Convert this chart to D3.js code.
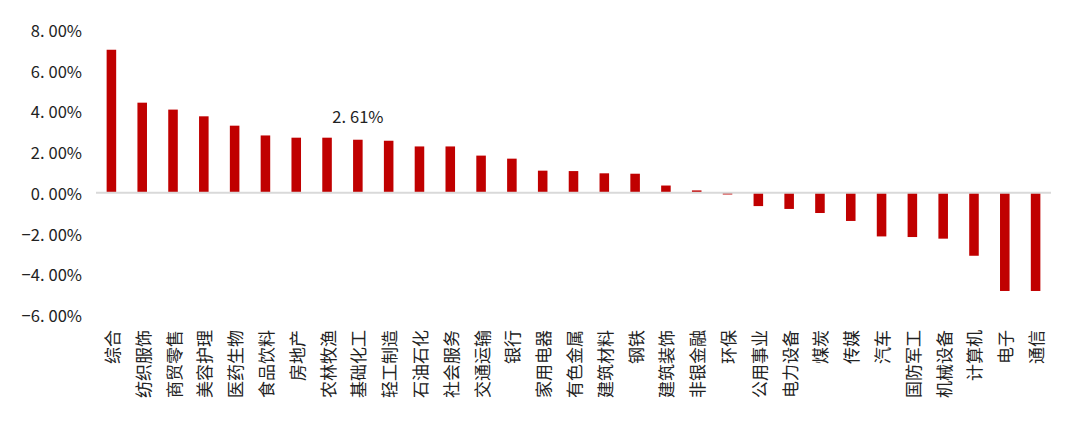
<!DOCTYPE html>
<html>
<head>
<meta charset="utf-8">
<script src="https://cdn.jsdelivr.net/npm/d3@7"></script>
<style>
  html, body { margin: 0; padding: 0; background: #fff; }
  svg { display: block; }
</style>
</head>
<body>
<svg id="chart" width="1080" height="441"></svg>
<script>
const categories = ["综合","纺织服饰","商贸零售","美容护理","医药生物","食品饮料","房地产","农林牧渔","基础化工","轻工制造",
  "石油石化","社会服务","交通运输","银行","家用电器","有色金属","建筑材料","钢铁","建筑装饰","非银金融",
  "环保","公用事业","电力设备","煤炭","传媒","汽车","国防军工","机械设备","计算机","电子","通信"];
const values = [7.03, 4.43, 4.09, 3.76, 3.30, 2.82, 2.71, 2.71, 2.61, 2.56,
  2.28, 2.28, 1.83, 1.68, 1.09, 1.07, 0.96, 0.94, 0.36, 0.12,
  -0.08, -0.65, -0.79, -0.99, -1.38, -2.14, -2.17, -2.25, -3.09, -4.82, -4.82];
const yTicks = [-6, -4, -2, 0, 2, 4, 6, 8];
const annotated = ["基础化工"];

const svg = d3.select("#chart");
const font = "'Noto Sans CJK SC', 'Noto Sans', sans-serif";
const ink = "#222";

const x = d3.scaleBand().domain(categories).range([96, 1051]).paddingInner(0.69).paddingOuter(0.345);
const y = d3.scaleLinear().domain([-6, 8]).range([315, 30]);

const fmtParts = v => {
  const s = (v < 0 ? "\u2212" : "") + Math.abs(v).toFixed(2) + "%";
  const i = s.indexOf(".");
  return [s.slice(0, i + 1), s.slice(i + 1)];
};

// y tick labels
const yAxis = svg.append("g").attr("class", "y-axis");
yTicks.forEach(t => {
  const [a, b] = fmtParts(t);
  const txt = yAxis.append("text")
    .attr("x", 82).attr("y", y(t))
    .attr("text-anchor", "end").attr("dominant-baseline", "central")
    .attr("font-family", font).attr("font-size", 16.5).attr("fill", ink);
  txt.append("tspan").text(a);
  txt.append("tspan").attr("dx", 4).text(b);
});

// bars
svg.append("g").selectAll("rect").data(values).join("rect")
  .attr("x", (d, i) => x(categories[i]))
  .attr("width", x.bandwidth())
  .attr("y", d => y(Math.max(0, d)))
  .attr("height", d => Math.abs(y(d) - y(0)))
  .attr("fill", "#c00000");

// zero line
svg.append("line")
  .attr("x1", x.range()[0]).attr("x2", x.range()[1])
  .attr("y1", y(0)).attr("y2", y(0))
  .attr("stroke", "#d9d9d9").attr("stroke-width", 2);

// category labels
svg.append("g").selectAll("text").data(categories).join("text")
  .attr("transform", d => `translate(${x(d) + x.bandwidth() / 2},330) rotate(-90)`)
  .attr("text-anchor", "end").attr("dominant-baseline", "central")
  .attr("font-family", font).attr("font-size", 17).attr("fill", ink)
  .text(d => d);

// data label
annotated.forEach(c => {
  const v = values[categories.indexOf(c)];
  const [a, b] = fmtParts(v);
  const txt = svg.append("text")
    .attr("x", x(c) + x.bandwidth() / 2).attr("y", y(v) - 24)
    .attr("text-anchor", "middle").attr("dominant-baseline", "central")
    .attr("font-family", font).attr("font-size", 16.5).attr("fill", ink);
  txt.append("tspan").text(a);
  txt.append("tspan").attr("dx", 4).text(b);
});
</script>
</body>
</html>
